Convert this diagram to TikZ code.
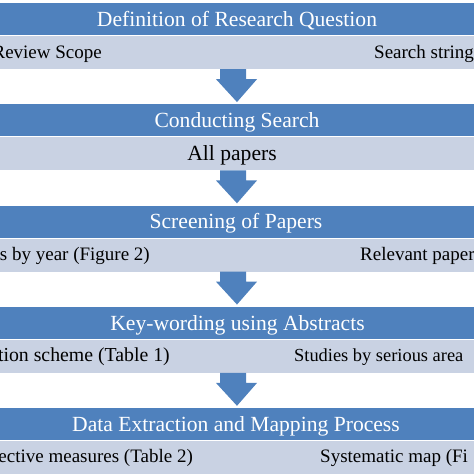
\documentclass[tikz,border=0pt]{standalone}
\usepackage{fontspec}
\setmainfont{Liberation Serif}
\usetikzlibrary{calc}
\definecolor{barblue}{RGB}{79,129,189}
\definecolor{bargray}{RGB}{201,210,227}
\tikzset{x=1pt,y=-1pt,
  bluebar/.style={fill=barblue,draw=none,minimum width=560pt,minimum height=32pt,inner sep=0pt},
  graybar/.style={fill=bargray,draw=none,minimum width=560pt,minimum height=33pt,inner sep=0pt},
  headtext/.style={text=white,font=\fontsize{21.6}{23}\selectfont,inner sep=0pt,anchor=base},
  subtext/.style={text=black,font=\fontsize{19}{21}\selectfont,inner sep=0pt},
  smallsubtext/.style={text=black,font=\fontsize{18.4}{21}\selectfont,inner sep=0pt},
  widesubtext/.style={text=black,font=\fontsize{19.8}{21}\selectfont,inner sep=0pt},
  bigsubtext/.style={text=black,font=\fontsize{21.6}{23}\selectfont,inner sep=0pt},
  flowarrow/.style={fill=barblue,draw=none}}
\begin{document}
\begin{tikzpicture}
\useasboundingbox (0,0) rectangle (474,474);
\clip (0,0) rectangle (474,474);
% blue bars
\node[bluebar] (b1) at (237,19) {};
\node[bluebar] (b2) at (237,120.25) {};
\node[bluebar] (b3) at (237,221.5) {};
\node[bluebar] (b4) at (237,322.75) {};
\node[bluebar] (b5) at (237,424) {};
% header texts
\node[headtext] (h1) at (237,26.5) {Definition of Research Question};
\node[headtext] (h2) at (237,127.5) {Conducting Search};
\node[headtext] (h3) at (236,228.75) {Screening of Papers};
\node[headtext] (h4) at (237.5,330) {Key-wording using Abstracts};
\node[headtext] (h5) at (236,431.5) {Data Extraction and Mapping Process};
% gray bars
\node[graybar] (g1) at (237,52.5) {};
\node[graybar] (g2) at (237,153.75) {};
\node[graybar] (g3) at (237,255) {};
\node[graybar] (g4) at (237,356.25) {};
\node[graybar] (g5) at (237,457.5) {};
% gray texts
\node[subtext,anchor=base east] (l1) at (102,58.5) {Review Scope};
\node[subtext,anchor=base west] (r1) at (374,58.5) {Search string};
\node[bigsubtext,anchor=base] (c2) at (232,160.5) {All papers};
\node[subtext,anchor=base east] (l3) at (150,260) {s by year (Figure 2)};
\node[subtext,anchor=base west] (r3) at (360,260) {Relevant paper};
\node[widesubtext,anchor=base east] (l4) at (170,361.25) {tion scheme (Table 1)};
\node[smallsubtext,anchor=base west] (r4) at (294,361.25) {Studies by serious area};
\node[subtext,anchor=base east] (l5) at (193,462.5) {ective measures (Table 2)};
\node[subtext,anchor=base west] (r5) at (320,462.5) {Systematic map (Fi};
% block arrows
\foreach \a/\b in {g1/b2,g2/b3,g3/b4,g4/b5}{
  \fill[flowarrow] ($(\a.south)+(-17,0)$) -- ($(\a.south)+(9,0)$) -- ($(\a.south)+(9,10)$)
    -- ($(\a.south)+(20,10)$) -- ($(\b.north)+(0,-2)$) -- ($(\a.south)+(-21,10)$)
    -- ($(\a.south)+(-17,10)$) -- cycle;
}
\end{tikzpicture}
\end{document}
